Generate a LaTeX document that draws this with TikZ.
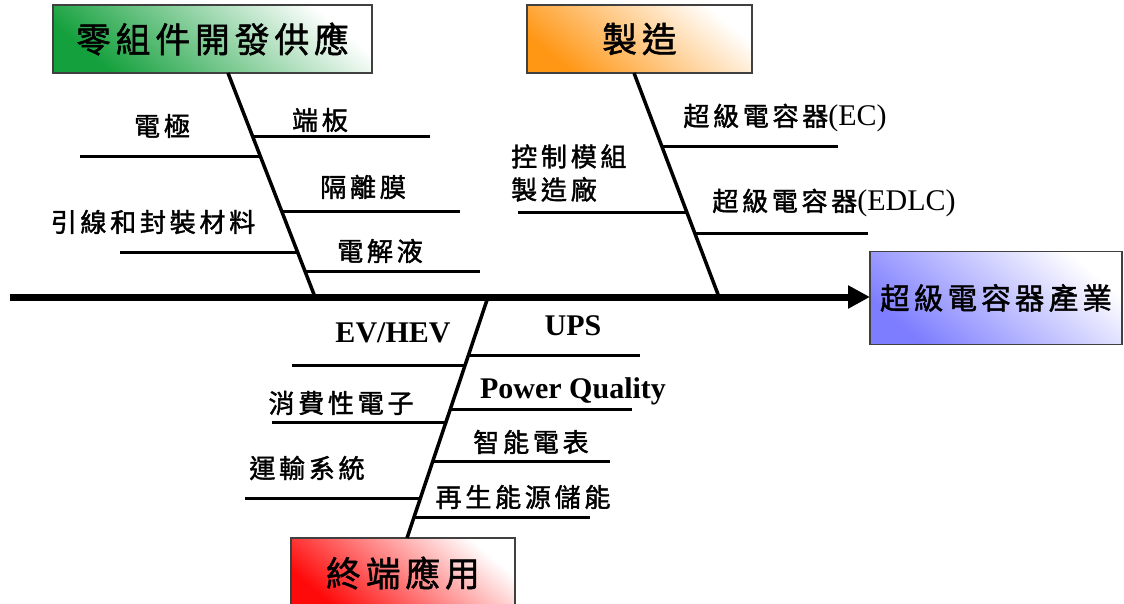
\documentclass[tikz,border=0pt]{standalone}
\usepackage{fontspec}
\setmainfont{Liberation Serif}
\newfontfamily\cjk[Scale=0.87,LetterSpace=14,FakeBold=1.5]{Noto Sans CJK TC}
\usetikzlibrary{arrows.meta}
\definecolor{cgreen}{RGB}{20,160,60}
\definecolor{corange}{RGB}{255,150,20}
\definecolor{cblue}{RGB}{125,125,255}
\definecolor{cred}{RGB}{255,10,10}
\begin{document}
\begin{tikzpicture}[x=1pt,y=-1pt,
  lbl/.style={font=\fontsize{30}{36}\selectfont, inner sep=0pt},
  titlebox/.style={draw=black!75, line width=1.2pt, shading=axis, top color=white, bottom color=#1, shading angle=-40, inner sep=0pt, outer sep=0pt},
  bone/.style={line width=3.5pt},
  rib/.style={line width=3pt},
  spine/.style={line width=7pt, -{Triangle[length=22pt,width=22pt]}}]
\useasboundingbox (0,0) rectangle (1124,604);

% title boxes
\node[titlebox=cgreen, minimum width=319pt, minimum height=68pt, font=\fontsize{40}{44}\selectfont] (b1) at (212.5,39) {\cjk 零組件開發供應};
\node[titlebox=corange, minimum width=225pt, minimum height=68pt, font=\fontsize{40}{44}\selectfont] (b2) at (639.5,39) {\cjk 製造};
\node[titlebox=cblue, minimum width=252pt, minimum height=93pt, font=\fontsize{34}{38}\selectfont] (b3) at (996,298) {\cjk 超級電容器產業};
\node[titlebox=cred, minimum width=224pt, minimum height=70pt, font=\fontsize{40}{44}\selectfont] (b4) at (403,573) {\cjk 終端應用};

% spine
\coordinate (sL) at (10,297);
\draw[spine] (sL) -- (sL -| b3.west);

% bones
\coordinate (t1) at (228,73);  \coordinate (j1) at (315,297);
\coordinate (t2) at (634,73);  \coordinate (j2) at (719,297);
\coordinate (t3) at (407,538); \coordinate (j3) at (488,297);
\draw[bone] (t1) -- (j1);
\draw[bone] (t2) -- (j2);
\draw[bone] (j3) -- (t3);

% ribs of bone 1
\coordinate (r1a) at (80,157);  \coordinate (r1b) at (261,157);
\coordinate (r2a) at (253,137); \coordinate (r2b) at (430,137);
\coordinate (r3a) at (282,212); \coordinate (r3b) at (460,212);
\coordinate (r4a) at (120,252); \coordinate (r4b) at (298,252);
\coordinate (r5a) at (305,271); \coordinate (r5b) at (480,271);
\foreach \r in {r1,r2,r3,r4,r5} \draw[rib] (\r a) -- (\r b);
\node[lbl] (l1) at (162,126) {\cjk 電極};
\node[lbl] (l2) at (320,120) {\cjk 端板};
\node[lbl] (l3) at (363,187) {\cjk 隔離膜};
\node[lbl] (l4) at (153,222) {\cjk 引線和封裝材料};
\node[lbl] (l5) at (380,251) {\cjk 電解液};

% ribs of bone 2
\coordinate (s1a) at (662,147); \coordinate (s1b) at (838,147);
\coordinate (s2a) at (518,213); \coordinate (s2b) at (687,213);
\coordinate (s3a) at (695,233); \coordinate (s3b) at (868,233);
\foreach \r in {s1,s2,s3} \draw[rib] (\r a) -- (\r b);
\node[lbl] (m1) at (785,118) {{\cjk 超級電容器}(EC)};
\node[lbl, align=left, anchor=west, font=\fontsize{30}{33}\selectfont] (m2) at (511,173) {\cjk 控制模組\\\cjk 製造廠};
\node[lbl] (m3) at (834,203) {{\cjk 超級電容器}(EDLC)};

% ribs of bone 3
\coordinate (u1a) at (468,355); \coordinate (u1b) at (640,355);
\coordinate (u2a) at (292,365); \coordinate (u2b) at (465,365);
\coordinate (u3a) at (450,409); \coordinate (u3b) at (632,409);
\coordinate (u4a) at (272,422); \coordinate (u4b) at (446,422);
\coordinate (u5a) at (433,461); \coordinate (u5b) at (610,461);
\coordinate (u6a) at (245,498); \coordinate (u6b) at (420,498);
\coordinate (u7a) at (414,517); \coordinate (u7b) at (590,517);
\foreach \r in {u1,u2,u3,u4,u5,u6,u7} \draw[rib] (\r a) -- (\r b);
\node[lbl, font=\fontsize{30}{36}\selectfont\bfseries] (n1) at (573,326) {UPS};
\node[lbl, font=\fontsize{30}{36}\selectfont\bfseries] (n2) at (393,333) {EV/HEV};
\node[lbl, font=\fontsize{30}{36}\selectfont\bfseries] (n3) at (573,391) {Power Quality};
\node[lbl] (n4) at (341,403) {\cjk 消費性電子};
\node[lbl] (n5) at (531,442) {\cjk 智能電表};
\node[lbl] (n6) at (307,468) {\cjk 運輸系統};
\node[lbl] (n7) at (523,497) {\cjk 再生能源儲能};
\end{tikzpicture}
\end{document}
